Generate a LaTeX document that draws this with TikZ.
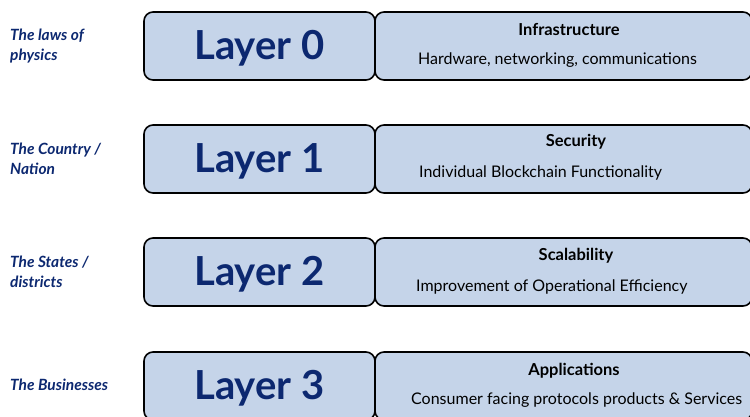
\documentclass[tikz,border=0pt]{standalone}
\usepackage{fontspec}
\setmainfont{Lato}
\definecolor{layerblue}{RGB}{197,212,233}
\definecolor{navy}{RGB}{12,40,112}
\begin{document}
\begin{tikzpicture}
      [%%%%%%%%%%%%%%%%%%%%%%%%%%%%%%
      x=1pt,y=-1pt,
      layerbox/.style={rectangle,rounded corners=9pt,draw=black,line width=1.6pt,fill=layerblue,
        minimum width=231pt,minimum height=68pt,inner sep=0pt,text depth=2pt,
        font=\fontsize{40}{44}\bfseries\selectfont,text=navy},
      infobox/.style={rectangle,rounded corners=9pt,draw=black,line width=1.6pt,fill=layerblue,
        minimum width=377pt,minimum height=68pt,inner sep=0pt},
      who/.style={anchor=west,align=left,inner sep=0pt,text=navy,
        font=\fontsize{15.5}{20}\bfseries\itshape\selectfont},
      title/.style={inner sep=0pt,font=\fontsize{16.5}{18}\bfseries\selectfont},
      detail/.style={anchor=west,inner sep=0pt,font=\fontsize{16}{18}\selectfont},
      ]%%%%%%%%%%%%%%%%%%%%%%%%%%%%%%
      \useasboundingbox (0,0) rectangle (750,416);

      \node[infobox] (r0) at (563.5,46) {};
      \node[layerbox] (l0) at (259.5,46) {Layer 0\hspace{8pt}};
      \node[infobox] (r1) at (563.5,159) {};
      \node[layerbox] (l1) at (259.5,159) {Layer 1\hspace{8pt}};
      \node[infobox] (r2) at (563.5,272) {};
      \node[layerbox] (l2) at (259.5,272) {Layer 2\hspace{8pt}};
      \node[infobox] (r3) at (563.5,386) {};
      \node[layerbox] (l3) at (259.5,386) {Layer 3\hspace{8pt}};

      \node[who] (w0) at (10,46) {The laws of\\physics};
      \node[who] (w1) at (10,159) {The Country /\\Nation};
      \node[who] (w2) at (10,272) {The States /\\districts};
      \node[who] (w3) at (10,385) {The Businesses};

      \node[title] (t0) at (569,29) {Infrastructure};
      \node[detail] (d0) at (418,60) {Hardware, networking, communications};
      \node[title] (t1) at (576,142) {Security};
      \node[detail] (d1) at (419,173) {Individual Blockchain Functionality};
      \node[title] (t2) at (576,256) {Scalability};
      \node[detail] (d2) at (416,287) {Improvement of Operational Efficiency};
      \node[title] (t3) at (574,371) {Applications};
      \node[detail] (d3) at (411,400) {Consumer facing protocols products \& Services};
    \end{tikzpicture}
\end{document}
